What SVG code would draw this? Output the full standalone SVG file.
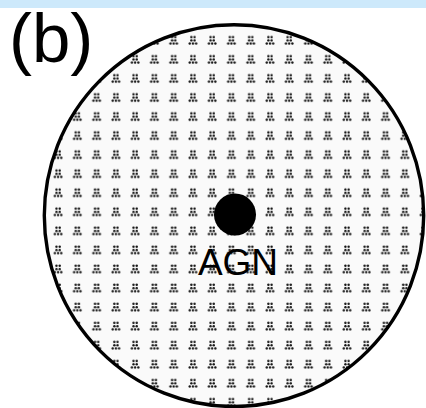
<svg xmlns="http://www.w3.org/2000/svg" width="426" height="408" viewBox="0 0 426 408">
  <defs>
    <pattern id="dots" patternUnits="userSpaceOnUse" x="67.67" y="145" width="19.26" height="19.05">
      <g fill="#111111">
        <circle cx="8.1" cy="6.5" r="1.2"/>
        <circle cx="11.3" cy="6.5" r="1.2"/>
        <circle cx="8.1" cy="9.7" r="1.2"/>
        <circle cx="11.3" cy="9.7" r="1.2"/>
        <circle cx="6.5" cy="12.9" r="1.2"/>
        <circle cx="9.7" cy="12.9" r="1.2"/>
        <circle cx="12.9" cy="12.9" r="1.2"/>
      </g>
    </pattern>
    <style>
      .lbl { font-family: "Liberation Sans", Arial, sans-serif; fill: #000; }
    </style>
  </defs>
  <rect x="0" y="0" width="426" height="408" fill="#ffffff"/>
  <g id="region">
    <ellipse cx="234" cy="215.6" rx="189.7" ry="190.9" fill="#fafafa"/>
    <ellipse cx="234" cy="215.6" rx="189.7" ry="190.9" fill="url(#dots)" stroke="#000" stroke-width="3.4"/>
  </g>
  <g id="agn">
    <circle cx="235" cy="214.5" r="21" fill="#000"/>
    <text class="lbl" x="238" y="275" font-size="37" text-anchor="middle">AGN</text>
  </g>
  <g id="panel-label">
    <text class="lbl" x="9" y="62" font-size="69">(b)</text>
  </g>
  <g id="connectors"/>
  <rect x="0" y="0" width="426" height="8" fill="#cde9fb"/>
</svg>
